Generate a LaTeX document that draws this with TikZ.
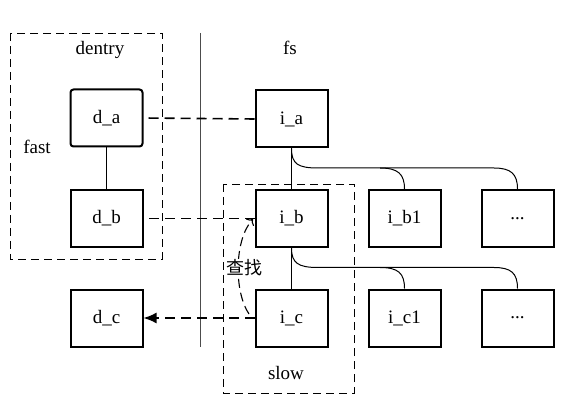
\documentclass[tikz,border=0pt]{standalone}
\usepackage{fontspec}
\setmainfont{Liberation Serif}
\newfontfamily\cjk{Noto Sans CJK SC}
\usetikzlibrary{arrows.meta}

\tikzset{
  blk/.style={draw, line width=2pt, minimum width=72pt, minimum height=57pt, inner sep=0pt},
  zone/.style={draw, line width=0.8pt, dash pattern=on 8pt off 5pt},
  link/.style={line width=1.6pt, dash pattern=on 10pt off 6pt},
  tree/.style={line width=1pt}
}

\begin{document}
\begin{tikzpicture}[x=1pt, y=-1pt, font=\fontsize{19}{22}\selectfont]
\useasboundingbox (0,0) rectangle (564,411);

\def\dentryzone{(10,33) rectangle (162,259)}
\def\slowzone{(223,184) rectangle (354,393)}

\draw[zone] \dentryzone;
\draw[zone] \slowzone;
\draw[line width=0.7pt, black!70] (200,33) -- (200,347);

\node (dentry) at (100,50) {dentry};
\node (fs) at (290,48) {fs};
\node (fast) at (37,147) {fast};
\node (slow) at (286,373) {slow};

\node[blk, rounded corners=3pt] (da) at (106.5,118) {d\_a};
\node[blk] (db) at (106.5,218.5) {d\_b};
\node[blk] (dc) at (106.5,318) {d\_c};

\node[blk] (ia) at (291.5,119) {i\_a};
\node[blk] (ib) at (291.5,218.5) {i\_b};
\node[blk] (ic) at (291.5,318) {i\_c};
\node[blk] (ib1) at (404.5,218.5) {i\_b1};
\node[blk] (ibx) at (517.5,218.5) {...};
\node[blk] (ic1) at (404.5,318) {i\_c1};
\node[blk] (icx) at (517.5,318) {...};

\draw[tree] (da) -- (db);
\draw[tree] (ia) -- (ib);
\draw[tree] (ib) -- (ic);

\draw[tree] (ia.south) .. controls (291.5,164) and (298,168) .. (318,168) -- (380,168)
  .. controls (398,168) and (404.5,174) .. (ib1.north);
\draw[tree] (380,168) -- (494,168) .. controls (511,168) and (517.5,174) .. (ibx.north);
\draw[tree] (ib.south) .. controls (291.5,263) and (298,267.5) .. (318,267.5) -- (380,267.5)
  .. controls (398,267.5) and (404.5,273) .. (ic1.north);
\draw[tree] (380,267.5) -- (494,267.5) .. controls (511,267.5) and (517.5,273) .. (icx.north);

\draw[link] (ia.west) -- (da.east);
\draw[link] (ib.west) -- (db.east);
\draw[link, -{Latex[length=13pt, width=11pt]}] (ic.west) -- (dc.east);

\coordinate (lookfrom) at (249,314);
\coordinate (lookto) at (253,219);
\draw[line width=1.1pt, dash pattern=on 9pt off 5pt, -{To[length=5pt]}]
  (lookfrom) .. controls (234,292) and (234,240) .. (lookto);
\node[fill=white, inner sep=1pt, font=\cjk\fontsize{18}{20}\selectfont] (look) at (244,268) {查找};

\end{tikzpicture}
\end{document}
